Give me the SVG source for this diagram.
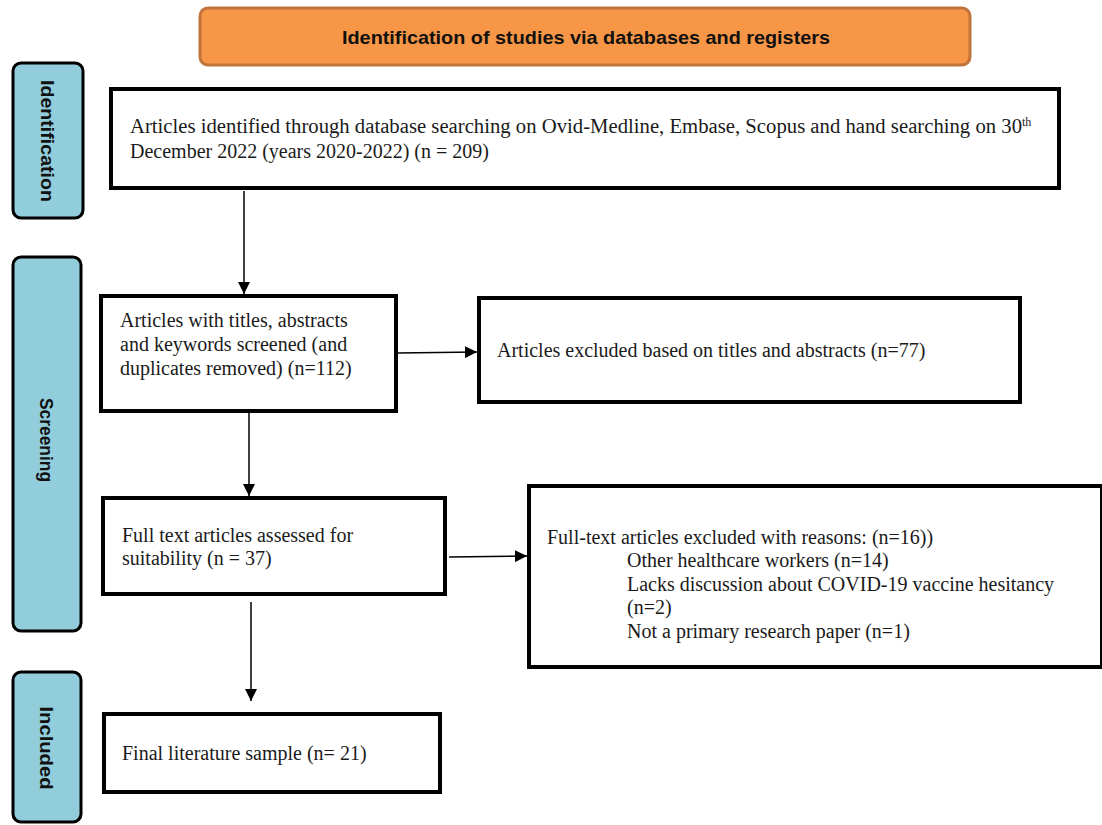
<svg xmlns="http://www.w3.org/2000/svg" width="1102" height="825" viewBox="0 0 1102 825">
<style>
.box{fill:#fff;stroke:#000;stroke-width:4}
.side{fill:#92CDDC;stroke:#000;stroke-width:3}
.t{font-family:"Liberation Serif","Times New Roman",serif;font-size:20px;fill:#1a1a1a}
.sup{font-size:12px}
.lbl{font-family:"Liberation Sans",Arial,sans-serif;font-weight:bold;font-size:19px;fill:#111}
.con{stroke:#000;stroke-width:1.5;fill:none}
</style>
<defs>
<marker id="ah" viewBox="0 0 10 10" refX="10" refY="5" markerWidth="12" markerHeight="12" markerUnits="userSpaceOnUse" orient="auto">
<path d="M0,0 L10,5 L0,10 z" fill="#000"/>
</marker>
</defs>
<g id="header">
<rect x="200" y="8" width="770" height="57" rx="8" fill="#F79646" stroke="#C0743C" stroke-width="3"/>
<text x="586" y="44" text-anchor="middle" class="lbl" textLength="488" lengthAdjust="spacingAndGlyphs">Identification of studies via databases and registers</text>
</g>
<g id="side-identification">
<rect x="13" y="63" width="70" height="155" rx="8" class="side"/>
<text class="lbl" transform="translate(41,141) rotate(90)" text-anchor="middle" textLength="122" lengthAdjust="spacingAndGlyphs">Identification</text>
</g>
<g id="side-screening">
<rect x="13" y="257" width="68" height="374" rx="8" class="side"/>
<text class="lbl" transform="translate(40,440) rotate(90)" text-anchor="middle" textLength="84" lengthAdjust="spacingAndGlyphs">Screening</text>
</g>
<g id="side-included">
<rect x="13" y="672" width="68" height="150" rx="8" class="side"/>
<text class="lbl" transform="translate(40,748) rotate(90)" text-anchor="middle" textLength="83" lengthAdjust="spacingAndGlyphs">Included</text>
</g>
<g id="n1">
<rect x="111" y="89" width="948" height="99" class="box"/>
<text class="t" x="130" y="133" textLength="892" lengthAdjust="spacingAndGlyphs">Articles identified through database searching on Ovid-Medline, Embase, Scopus and hand searching on 30</text>
<text class="t sup" x="1022" y="126">th</text>
<text class="t" x="130" y="158">December 2022 (years 2020-2022) (n = 209)</text>
</g>
<g id="n2">
<rect x="101" y="296" width="295" height="115" class="box"/>
<text class="t" x="120" y="327">Articles with titles, abstracts</text>
<text class="t" x="120" y="351">and keywords screened (and</text>
<text class="t" x="120" y="375">duplicates removed) (n=112)</text>
</g>
<g id="n3">
<rect x="479" y="298" width="541" height="104" class="box"/>
<text class="t" x="497" y="357">Articles excluded based on titles and abstracts (n=77)</text>
</g>
<g id="n4">
<rect x="103" y="498" width="342" height="96" class="box"/>
<text class="t" x="122" y="542">Full text articles assessed for</text>
<text class="t" x="122" y="565">suitability (n = 37)</text>
</g>
<g id="n5">
<rect x="529" y="486" width="573" height="181" class="box"/>
<text class="t" x="547" y="544">Full-text articles excluded with reasons: (n=16))</text>
<text class="t" x="627" y="567">Other healthcare workers (n=14)</text>
<text class="t" x="627" y="591">Lacks discussion about COVID-19 vaccine hesitancy</text>
<text class="t" x="627" y="614">(n=2)</text>
<text class="t" x="627" y="638">Not a primary research paper (n=1)</text>
</g>
<g id="n6">
<rect x="104" y="714" width="336" height="78" class="box"/>
<text class="t" x="122" y="760">Final literature sample (n= 21)</text>
</g>
<g id="connectors">
<line class="con" x1="244" y1="191" x2="244" y2="294" marker-end="url(#ah)"/>
<line class="con" x1="398" y1="353" x2="477" y2="352" marker-end="url(#ah)"/>
<line class="con" x1="249" y1="413" x2="249" y2="496" marker-end="url(#ah)"/>
<line class="con" x1="449" y1="557" x2="527" y2="556" marker-end="url(#ah)"/>
<line class="con" x1="251" y1="602" x2="251" y2="701" marker-end="url(#ah)"/>
</g>
</svg>
